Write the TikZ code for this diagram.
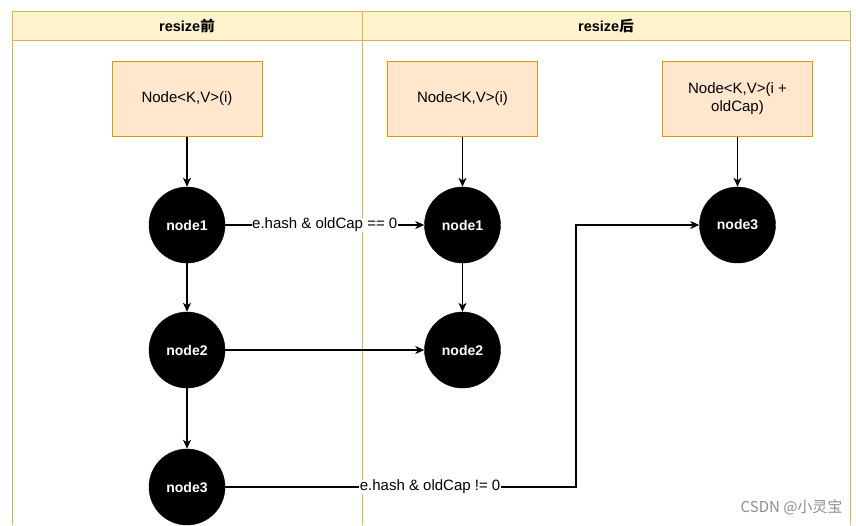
\documentclass[tikz,border=0pt]{standalone}
\usepackage{fontspec}
\setmainfont{Liberation Sans}
\newfontfamily\cjkfont{Noto Sans CJK SC}
\usetikzlibrary{arrows.meta}
\definecolor{laneborder}{HTML}{D6B656}
\definecolor{lanefill}{HTML}{FFF2CC}
\definecolor{boxfill}{HTML}{FFE6CC}
\definecolor{boxborder}{HTML}{D79B00}
\tikzset{
  keybox/.style={draw=boxborder, fill=boxfill, line width=1pt, minimum width=150pt, minimum height=75pt, align=center, font=\fontsize{15}{18}\selectfont, inner sep=2pt},
  listnode/.style={circle, fill=black, draw=black, minimum size=76pt, inner sep=0pt, text=white, font=\bfseries\fontsize{14}{16}\selectfont},
  link/.style={draw=black, line width=1.2pt, -{Stealth[length=9pt,width=8pt,inset=2.5pt]}},
  linklabel/.style={fill=white, inner sep=0.5pt, font=\fontsize{15}{17}\selectfont},
  lanetitle/.style={font=\bfseries\fontsize{14.5}{16}\selectfont},
}
\begin{document}
\begin{tikzpicture}[x=1pt,y=-1pt]
\useasboundingbox (0,0) rectangle (856,525);
% swimlane
\fill[lanefill] (12,11) rectangle (850,40);
\draw[laneborder, line width=1pt] (12,525) -- (12,11) -- (850,11) -- (850,525);
\draw[laneborder, line width=1pt] (12,40) -- (850,40);
\draw[laneborder, line width=1pt] (362,11) -- (362,525);
\node[lanetitle] (t1) at (187,26) {resize{\cjkfont 前}};
\node[lanetitle] (t2) at (606,26) {resize{\cjkfont 后}};
% key boxes
\node[keybox] (b1) at (187,98.5) {Node<K,V>(i)};
\node[keybox] (b2) at (462.5,98.5) {Node<K,V>(i)};
\node[keybox] (b3) at (737.5,98.5) {Node<K,V>(i +\\oldCap)};
% list nodes
\node[listnode] (l1) at (187,225) {node1};
\node[listnode] (l2) at (187,350) {node2};
\node[listnode] (l3) at (187,487) {node3};
\node[listnode] (r1) at (462.5,225) {node1};
\node[listnode] (r2) at (462.5,350) {node2};
\node[listnode] (r3) at (737.5,225) {node3};
\coordinate (bend) at (576,487);
% connectors
\draw[link] (b1) -- (l1);
\draw[link] (l1) -- (l2);
\draw[link] (l2) -- (l3);
\draw[link] (b2) -- (r1);
\draw[link] (r1) -- (r2);
\draw[link] (b3) -- (r3);
\draw[link] (l1) -- node[linklabel, pos=0.5] {e.hash \& oldCap == 0} (r1);
\draw[link] (l2) -- (r2);
\draw[link] (l3) -- node[linklabel, pos=0.584] {e.hash \& oldCap != 0} (bend) |- (r3);
% watermark
\node[text=black!45, font=\cjkfont\fontsize{15}{17}\selectfont, anchor=east] (wm) at (846,507) {CSDN @小灵宝};
\end{tikzpicture}
\end{document}
